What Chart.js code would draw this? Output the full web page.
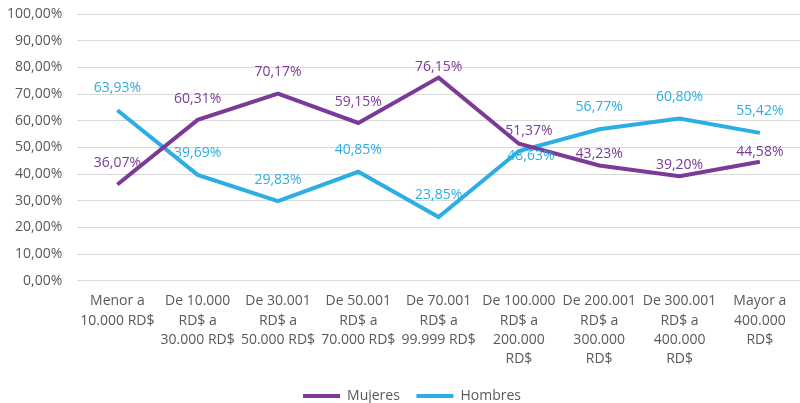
<!DOCTYPE html>
<html>
<head>
<meta charset="utf-8">
<script src="https://cdn.jsdelivr.net/npm/chart.js@4/dist/chart.umd.min.js"></script>
<style>
  html, body { margin: 0; padding: 0; background: #ffffff; }
  #wrap { width: 800px; height: 403px; position: relative; }
</style>
</head>
<body>
<div id="wrap"><canvas id="c"></canvas></div>
<script>
const categories = [
  ["Menor a", "10.000 RD$"],
  ["De 10.000", "RD$ a", "30.000 RD$"],
  ["De 30.001", "RD$ a", "50.000 RD$"],
  ["De 50.001", "RD$ a", "70.000 RD$"],
  ["De 70.001", "RD$ a", "99.999 RD$"],
  ["De 100.000", "RD$ a", "200.000", "RD$"],
  ["De 200.001", "RD$ a", "300.000", "RD$"],
  ["De 300.001", "RD$ a", "400.000", "RD$"],
  ["Mayor a", "400.000", "RD$"]
];
const mujeres = [36.07, 60.31, 70.17, 59.15, 76.15, 51.37, 43.23, 39.20, 44.58];
const hombres = [63.93, 39.69, 29.83, 40.85, 23.85, 48.63, 56.77, 60.80, 55.42];
const seriesNames = ["Mujeres", "Hombres"];
const yTicks = [0, 10, 20, 30, 40, 50, 60, 70, 80, 90, 100];

const PURPLE = "#7B3A98";
const BLUE = "#2BAEE3";
const FONT = "'Open Sans', 'Liberation Sans', sans-serif";

function fmt(v) {
  return v.toFixed(2).replace(".", ",") + "%";
}

// label placement tweaks (dx, dy from point), by dataset then index
const labelOffsets = [
  [[0,-21],[0,-21],[0,-22],[0,-21],[0,-11],[10,-13],[0,-11],[0,-11],[0,-10]],
  [[0,-22],[0,-22],[0,-21],[0,-22],[0,-22],[12,5],[0,-22],[0,-22],[0,-22]]
];

const labelPlugin = {
  id: "valueLabels",
  afterDatasetsDraw(chart) {
    const ctx = chart.ctx;
    ctx.save();
    ctx.font = "14px " + FONT;
    ctx.textAlign = "center";
    ctx.textBaseline = "middle";
    chart.data.datasets.forEach((ds, di) => {
      const meta = chart.getDatasetMeta(di);
      ctx.fillStyle = ds.borderColor;
      meta.data.forEach((pt, i) => {
        const off = labelOffsets[di][i];
        ctx.fillText(fmt(ds.data[i]), pt.x + off[0], pt.y + off[1]);
      });
    });
    ctx.restore();
  }
};

// nudge legend to the right, like the reference
const legendShift = {
  id: "legendShift",
  afterLayout(chart) {
    if (chart.legend) {
      chart.legend.left += 32;
      chart.legend.right += 0;
    }
  }
};

new Chart(document.getElementById("c"), {
  type: "line",
  data: {
    labels: categories,
    datasets: [
      { label: seriesNames[0], data: mujeres, borderColor: PURPLE, backgroundColor: PURPLE,
        borderWidth: 4, pointRadius: 0, tension: 0, fill: false },
      { label: seriesNames[1], data: hombres, borderColor: BLUE, backgroundColor: BLUE,
        borderWidth: 4, pointRadius: 0, tension: 0, fill: false }
    ]
  },
  options: {
    responsive: true,
    maintainAspectRatio: false,
    animation: false,
    layout: { padding: { top: 14, left: -8, right: 0, bottom: -10 } },
    plugins: {
      legend: {
        position: "bottom",
        labels: {
          usePointStyle: true,
          pointStyle: "line",
          pointStyleWidth: 37,
          boxHeight: 4,
          color: "#595959",
          font: { family: FONT, size: 14 },
          padding: 2,
          generateLabels(chart) {
            return chart.data.datasets.map((ds, i) => ({
              text: i === 0 ? ds.label + "\u00a0\u00a0\u00a0\u00a0" : ds.label,
              strokeStyle: ds.borderColor,
              fillStyle: ds.borderColor,
              lineWidth: 4,
              pointStyle: "line",
              fontColor: "#595959",
              datasetIndex: i,
              hidden: false
            }));
          }
        }
      },
      tooltip: { enabled: false }
    },
    scales: {
      x: {
        offset: true,
        grid: { display: false, drawTicks: false, offset: true },
        border: { display: false },
        ticks: {
          color: "#595959",
          font: { family: FONT, size: 14, lineHeight: 1.38 },
          maxRotation: 0,
          autoSkip: false,
          padding: 11
        },
        afterFit(scale) { scale.height += 7; }
      },
      y: {
        min: 0,
        max: 100,
        afterBuildTicks(axis) { axis.ticks = yTicks.map(v => ({ value: v })); },
        afterFit(scale) { scale.paddingTop = 0; },
        grid: { color: "#D9D9D9", lineWidth: 1, drawTicks: false },
        border: { display: false },
        ticks: {
          color: "#595959",
          font: { family: FONT, size: 14 },
          padding: 15,
          callback: (v) => fmt(v)
        }
      }
    }
  },
  plugins: [labelPlugin, legendShift]
});
</script>
</body>
</html>
